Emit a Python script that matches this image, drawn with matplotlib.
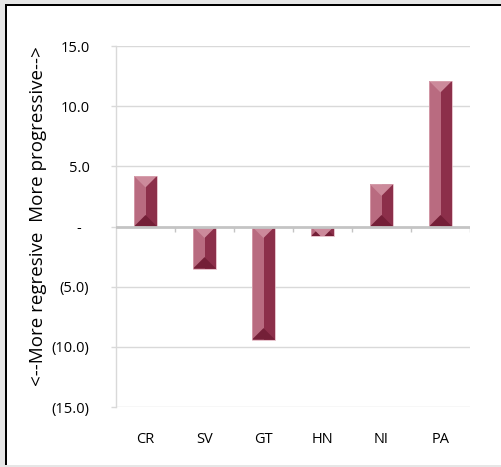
import matplotlib
matplotlib.use("Agg")
import matplotlib.pyplot as plt
from matplotlib.patches import Polygon, Rectangle
import numpy as np

plt.rcParams['font.family'] = ['Open Sans', 'DejaVu Sans']

countries = ['CR', 'SV', 'GT', 'HN', 'NI', 'PA']
scores = [4.2, -3.5, -9.4, -0.8, 3.5, 12.1]
y_ticks = [-15, -10, -5, 0, 5, 10, 15]
y_tick_labels = ['(15.0)', '(10.0)', '(5.0)', '-  ', '5.0', '10.0', '15.0']

# bevel shading for each bar
face_left = '#b96b80'
face_right = '#8c2f4a'
cap_top = '#cc8a9b'
cap_bottom = '#741f37'
grid_col = '#d9d9d9'

W, H = 502, 467
fig = plt.figure(figsize=(W / 100, H / 100), dpi=100)
fig.patch.set_facecolor('#e6e6e6')

# white chart area with dark top/left frame
fig.patches.append(Rectangle((7 / W, 2 / H), 1, 1 - 8 / H, transform=fig.transFigure,
                             facecolor='white', edgecolor='none', zorder=-2))
fig.patches.append(Rectangle((5 / W, 1 - 6 / H), 1, 2 / H, transform=fig.transFigure,
                             facecolor='black', edgecolor='none', zorder=-1))
fig.patches.append(Rectangle((5 / W, 2 / H), 2 / W, 1 - 8 / H, transform=fig.transFigure,
                             facecolor='black', edgecolor='none', zorder=-1))

ax = fig.add_axes([116 / W, (H - 407) / H, 354 / W, 361 / H])
ax.set_facecolor('none')
x = np.arange(len(countries))
ax.set_xlim(-0.5, len(countries) - 0.5)
ax.set_ylim(-15, 15)

bars = ax.bar(x, scores, width=0.39, color=face_left, edgecolor='none', zorder=2)

px_x = ax.transData.transform((1, 0))[0] - ax.transData.transform((0, 0))[0]
px_y = ax.transData.transform((0, 1))[1] - ax.transData.transform((0, 0))[1]

for b in bars:
    x0 = b.get_x()
    x1 = x0 + b.get_width()
    xc = (x0 + x1) / 2
    y_top = max(b.get_y(), b.get_y() + b.get_height())
    y_bot = min(b.get_y(), b.get_y() + b.get_height())
    depth = (b.get_width() / 2) * px_x / px_y
    pieces = [
        Rectangle((xc, y_bot), x1 - xc, y_top - y_bot, facecolor=face_right,
                  edgecolor='none', zorder=3),
        Polygon([(x0, y_bot), (x1, y_bot), (xc, y_bot + depth)], closed=True,
                facecolor=cap_bottom, edgecolor='none', zorder=4),
        Polygon([(x0, y_top), (x1, y_top), (xc, y_top - depth)], closed=True,
                facecolor=cap_top, edgecolor='none', zorder=4),
    ]
    for p in pieces:
        ax.add_patch(p)
        p.set_clip_path(b)
    ax.add_patch(Rectangle((x0, y_bot), x1 - x0, y_top - y_bot, facecolor='none',
                           edgecolor='#dcaab6', linewidth=0.5, zorder=5))

# horizontal gridlines and zero axis
for t in y_ticks:
    if t != 0:
        ax.axhline(t, color=grid_col, linewidth=1, zorder=1)
ax.axhline(0, color='#c4c4c4', linewidth=2, zorder=6)
tick_len = 5 / px_y
ax.vlines(np.arange(len(countries)) + 0.5, -tick_len, 0, color='#c4c4c4', linewidth=1, zorder=6)

for side in ['top', 'right', 'bottom']:
    ax.spines[side].set_visible(False)
ax.spines['left'].set_color(grid_col)
ax.spines['left'].set_linewidth(1)

ax.set_yticks(y_ticks)
ax.set_yticklabels(y_tick_labels)
ax.tick_params(axis='y', length=3.6, width=1, color=grid_col, pad=15.5, labelsize=10.5)
ax.set_xticks(x)
ax.set_xticklabels(countries)
ax.tick_params(axis='x', length=0, pad=18, labelsize=10.5)

fig.text(38 / W, (H - 216) / H, '<--More regresive  More progressive-->',
         rotation=90, ha='center', va='center', fontsize=13.5)

fig.savefig('out.png', dpi=100, facecolor=fig.get_facecolor())
